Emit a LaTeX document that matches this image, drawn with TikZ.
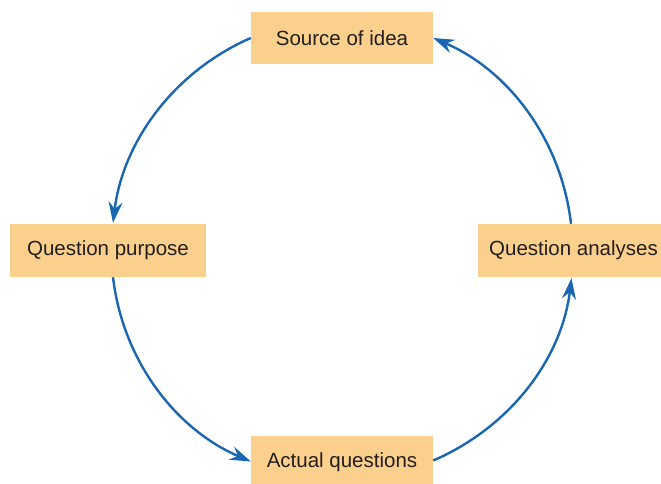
\documentclass[tikz,border=0pt]{standalone}
\usepackage{fontspec}
\setmainfont{Liberation Sans}
\usetikzlibrary{arrows.meta,calc}
\definecolor{boxfill}{HTML}{FBCF8C}
\definecolor{arrowblue}{HTML}{1A66B0}
\definecolor{txt}{HTML}{231F20}
\begin{document}
\begin{tikzpicture}[x=1pt,y=1pt,
  stagebox/.style={rectangle,fill=boxfill,draw=none,inner sep=0pt,text=txt,
    font=\fontsize{20.5}{24}\selectfont},
  cyc/.style={draw=arrowblue,line width=2.4pt,
    -{Stealth[length=21pt,width=14pt,inset=7pt]},looseness=0.92}]
\useasboundingbox (0,0) rectangle (661,483);
\node[stagebox,minimum width=182pt,minimum height=52pt] (src) at (342,445) {Source of idea};
\node[stagebox,minimum width=196pt,minimum height=53pt] (qp) at (108,232.5) {Question purpose};
\node[stagebox,minimum width=183pt,minimum height=53pt] (qa) at (569.5,232.5) {\hspace*{8pt}Question analyses};
\node[stagebox,minimum width=182pt,minimum height=52pt] (aq) at (342,21) {Actual questions};
\draw[cyc] (src.west) to[out=203.5,in=83] ([xshift=5pt,yshift=1pt]qp.north);
\draw[cyc] ([xshift=5pt]qp.south) to[out=276.7,in=156.8] ([yshift=0.5pt]aq.west);
\draw[cyc] ([yshift=1.5pt]aq.east) to[out=23.3,in=263] ([xshift=2pt,yshift=-1pt]qa.south);
\draw[cyc] ([xshift=1.5pt]qa.north) to[out=96.5,in=336.8] (src.east);
\end{tikzpicture}
\end{document}
